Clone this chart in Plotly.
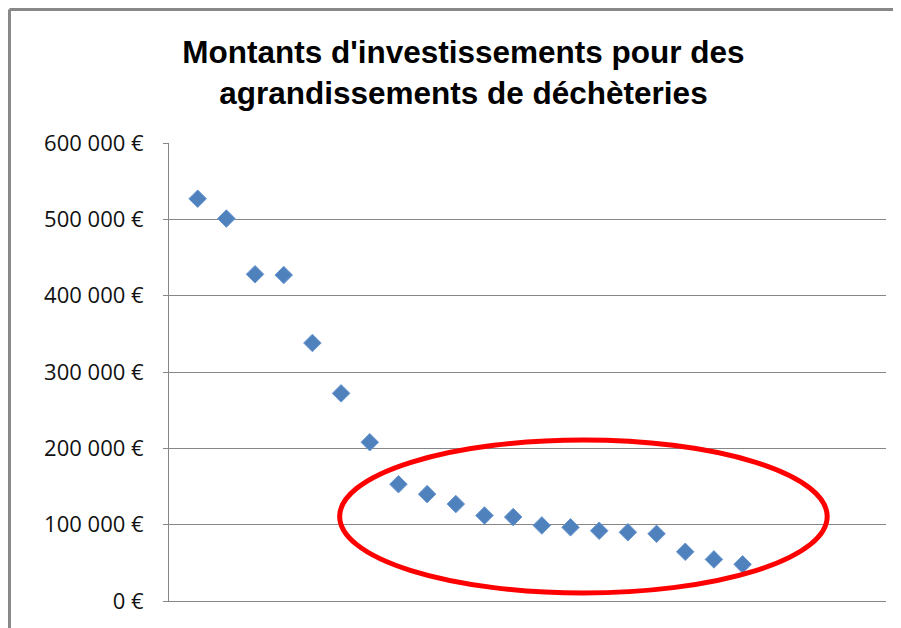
import plotly.graph_objects as go

# Data
rank = list(range(1, 21))
montants = [527000, 501000, 428000, 427000, 338000, 272000, 208000, 153000, 140000, 127000,
            112000, 110000, 99000, 96500, 92000, 90000, 88000, 64500, 54500, 48000]
tick_vals = [0, 100000, 200000, 300000, 400000, 500000, 600000]
tick_text = ["0 €", "100 000 €", "200 000 €", "300 000 €", "400 000 €", "500 000 €", "600 000 €"]

fig = go.Figure()

fig.add_trace(go.Scatter(
    x=rank, y=montants,
    mode="markers",
    marker=dict(symbol="diamond", size=13.5, color="#4F81BD",
                line=dict(color="#6A98D2", width=1)),
    cliponaxis=False,
    showlegend=False
))

# red ellipse highlighting the low-value group
fig.add_shape(
    type="circle", xref="x", yref="y",
    x0=5.95, x1=22.95, y0=10500, y1=211000,
    line=dict(color="#FF0000", width=5),
    fillcolor="rgba(0,0,0,0)"
)

# outer chart border: only the top and left edges show in the reference
fig.add_shape(type="line", xref="paper", yref="paper",
              x0=-0.2225, x1=1.2, y0=1.2915, y1=1.2915,
              line=dict(color="#888888", width=3), layer="below")
fig.add_shape(type="line", xref="paper", yref="paper",
              x0=-0.2225, x1=-0.2225, y0=-0.2, y1=1.2915,
              line=dict(color="#888888", width=3), layer="below")

fig.update_layout(
    width=893, height=620,
    margin=dict(l=161, r=15, t=135, b=27),
    paper_bgcolor="white",
    plot_bgcolor="white",
    title=dict(
        text="<b>Montants d'investissements pour des<br>agrandissements de déchèteries</b>",
        x=0.51, xanchor="center", y=0.912, yanchor="top",
        font=dict(family="Liberation Sans, Arial, sans-serif", size=31.5, color="black")
    ),
    xaxis=dict(
        range=[0, 25], showgrid=False, showticklabels=False, ticks="",
        zeroline=False, showline=True, linecolor="#868686", linewidth=1
    ),
    yaxis=dict(
        range=[0, 600000], tickvals=tick_vals, ticktext=tick_text,
        showgrid=True, gridcolor="#868686", gridwidth=1,
        zeroline=False, showline=True, linecolor="#868686", linewidth=1,
        ticks="outside", ticklen=5, tickcolor="#868686",
        tickfont=dict(family="Open Sans, sans-serif", size=22, color="#111111"),
        ticklabelstandoff=15
    )
)

fig.write_html("out.html")
